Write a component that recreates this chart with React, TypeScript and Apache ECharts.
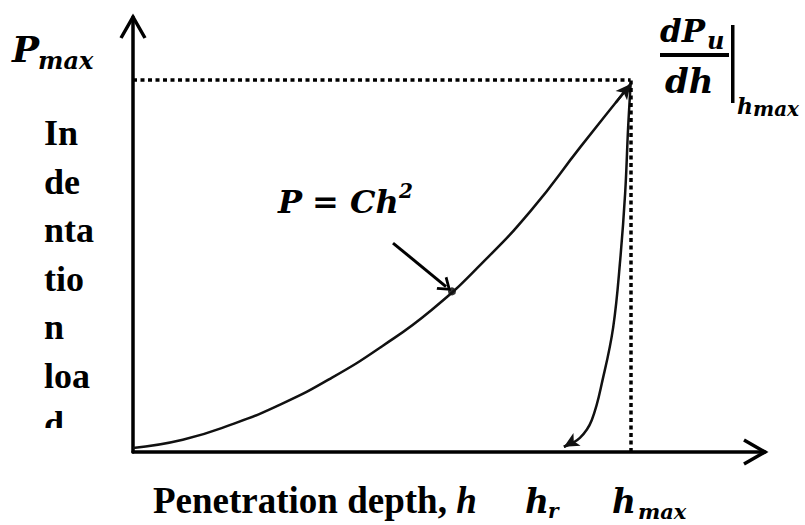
import React, { useEffect, useRef } from "react";
import * as echarts from "echarts";

// Loading curve P = C h^2 (normalised: h / hmax, P / Pmax), read at h = 0, 0.1, ... 1
const loadH = [0, 0.1, 0.2, 0.3, 0.4, 0.5, 0.6, 0.7, 0.8, 0.9, 1.0];
const loadP = [0.011, 0.033, 0.075, 0.13, 0.2, 0.284, 0.382, 0.506, 0.65, 0.822, 0.99];
// Unloading curve
const unloadH = [1.0, 0.995, 0.989, 0.979, 0.965, 0.945, 0.922, 0.898, 0.866];
const unloadP = [0.99, 0.874, 0.697, 0.516, 0.336, 0.202, 0.086, 0.038, 0.014];

const hMax = 1;
const pMax = 1;
const xAxisMax = 1.27;
const yAxisMax = 1.17;
// annotated point on the loading curve and the pointer's start / end
const markedPoint = [0.641, 0.432];
const pointerStart = [0.5225, 0.562];
const pointerEnd = [0.629, 0.445];

const MATH = '"DejaVu Serif", serif';
const TIMES = '"Liberation Serif", "Times New Roman", serif';

function pairs(xs: number[], ys: number[]) {
  return xs.map((x, i) => [x, ys[i]]);
}

// short piece of the final chord, used only to orient the arrow head
function arrowSeg(pts: number[][]) {
  const a = pts[pts.length - 2];
  const b = pts[pts.length - 1];
  const t = 0.3;
  return [[b[0] + (a[0] - b[0]) * t, b[1] + (a[1] - b[1]) * t], b];
}

export default function App() {
  const ref = useRef<HTMLDivElement>(null);
  useEffect(() => {
    if (!ref.current) return;
    const chart = echarts.init(ref.current, undefined, { renderer: "svg" });
    const curve = { color: "#111", width: 2.5 };
    const load = pairs(loadH, loadP);
    const unload = pairs(unloadH, unloadP);
    const la = arrowSeg(load);
    const ua = arrowSeg(unload);
    const arrowMark = (seg: number[][]) => ({
      silent: true,
      symbol: ["none", "arrow"],
      symbolSize: [11, 15],
      label: { show: false },
      lineStyle: { color: "#111", width: 2.5, type: "solid" },
      data: [[{ coord: seg[0] }, { coord: seg[1] }]],
    });
    chart.setOption({
      animation: false,
      backgroundColor: "#fff",
      grid: { left: 133, right: 40, top: 17, bottom: 73, outerBoundsMode: "none" },
      xAxis: {
        type: "value",
        min: 0,
        max: xAxisMax,
        axisLine: { show: true, onZero: true, lineStyle: { color: "#000", width: 3.5 } },
        axisTick: { show: false },
        axisLabel: { show: false },
        splitLine: { show: false },
      },
      yAxis: {
        type: "value",
        min: 0,
        max: yAxisMax,
        axisLine: { show: true, lineStyle: { color: "#000", width: 3.5 } },
        axisTick: { show: false },
        axisLabel: { show: false },
        splitLine: { show: false },
      },
      series: [
        {
          name: "guides",
          type: "line",
          data: [],
          silent: true,
          markLine: {
            silent: true,
            symbol: "none",
            label: { show: false },
            lineStyle: { color: "#000", width: 3.5, type: [4, 3.5] },
            data: [
              [{ coord: [0, pMax] }, { coord: [hMax, pMax] }],
              [{ coord: [hMax, 0] }, { coord: [hMax, pMax] }],
            ],
          },
        },
        {
          name: "loading",
          type: "line",
          data: load,
          smooth: true,
          symbol: "none",
          silent: true,
          lineStyle: curve,
          markLine: arrowMark(la),
        },
        {
          name: "unloading",
          type: "line",
          data: unload,
          smooth: 0.4,
          symbol: "none",
          silent: true,
          lineStyle: curve,
          markLine: arrowMark(ua),
        },
        {
          name: "point",
          type: "scatter",
          data: [markedPoint],
          symbolSize: 8,
          itemStyle: { color: "#000" },
          silent: true,
          markLine: {
            silent: true,
            symbol: ["none", "path://M0,14 L8,0 L16,14 L13.6,15.6 L8,5.6 L2.4,15.6 Z"],
            symbolSize: [17, 13],
            label: { show: false },
            lineStyle: { color: "#000", width: 3, type: "solid" },
            data: [[{ coord: pointerStart }, { coord: pointerEnd }]],
          },
        },
      ],
    });

    const [xEnd, yBase] = chart.convertToPixel({ gridIndex: 0 }, [xAxisMax, 0]) as number[];
    const [xBase, yEnd] = chart.convertToPixel({ gridIndex: 0 }, [0, yAxisMax]) as number[];
    const arrowStyle = { stroke: "#000", lineWidth: 3.5, fill: "none", lineJoin: "miter" };
    const mathText = (x: number, y: number, text: string, size: number) => ({
      type: "text",
      x,
      y,
      style: {
        text,
        fill: "#000",
        fontFamily: MATH,
        fontWeight: "bold",
        fontStyle: "italic",
        fontSize: size,
        verticalAlign: "middle",
        align: "left",
      },
    });

    chart.setOption({
      graphic: [
        {
          type: "polyline",
          shape: { points: [[xEnd - 21, yBase - 12], [xEnd, yBase], [xEnd - 21, yBase + 12]] },
          style: arrowStyle,
        },
        {
          type: "polyline",
          shape: { points: [[xBase - 12, yEnd + 21], [xBase, yEnd], [xBase + 12, yEnd + 21]] },
          style: arrowStyle,
        },
        // P_max
        mathText(12, 49, "P", 36),
        mathText(38, 60, "max", 24),
        // dP_u/dh |_{hmax}
        mathText(660, 31, "dP", 31),
        mathText(707, 40, "u", 24),
        { type: "rect", shape: { x: 660, y: 53, width: 69, height: 4 }, style: { fill: "#000" } },
        mathText(665, 81, "dh", 34),
        { type: "rect", shape: { x: 731, y: 25, width: 3.5, height: 78 }, style: { fill: "#000" } },
        mathText(737, 106, "h", 22),
        mathText(753, 109, "max", 20),
        // P = Ch^2
        mathText(278, 202, "P", 32),
        mathText(312, 202, "=", 32),
        mathText(350, 202, "Ch", 32),
        mathText(399, 191, "2", 20),
        // y axis title (wrapped, last line clipped as in the source)
        {
          type: "text",
          x: 44,
          y: 109,
          style: {
            text: "In\nde\nnta\ntio\nn\nloa\nd",
            fill: "#000",
            fontFamily: TIMES,
            fontWeight: "bold",
            fontSize: 36,
            lineHeight: 48.5,
            verticalAlign: "top",
            align: "left",
          },
        },
        { type: "rect", z: 10, shape: { x: 30, y: 428, width: 95, height: 22 }, style: { fill: "#fff" } },
        // x axis title
        {
          type: "text",
          x: 153,
          y: 500,
          style: {
            text: "{a|Penetration depth, }{b|h}",
            verticalAlign: "middle",
            align: "left",
            rich: {
              a: { fontFamily: TIMES, fontWeight: "bold", fontSize: 37, fill: "#000" },
              b: { fontFamily: TIMES, fontWeight: "bold", fontStyle: "italic", fontSize: 37, fill: "#000" },
            },
          },
        },
        mathText(525, 501, "h", 33),
        mathText(548, 511, "r", 20),
        mathText(612, 501, "h", 33),
        mathText(638, 511, "max", 21),
      ],
    });

    return () => chart.dispose();
  }, []);
  return (
    <div
      ref={ref}
      style={{ position: "absolute", left: 0, top: 0, width: 805, height: 525 }}
    />
  );
}
